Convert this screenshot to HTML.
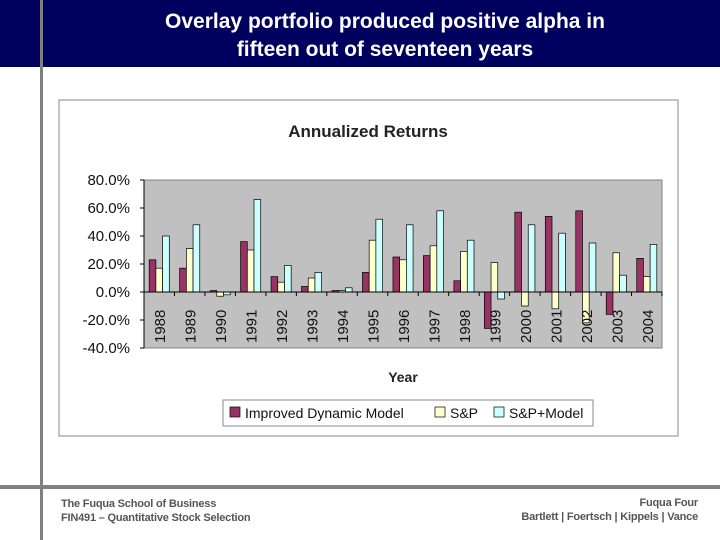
<!DOCTYPE html>
<html><head><meta charset="utf-8"><style>
body{margin:0;width:720px;height:540px;position:relative;background:#fff;font-family:"Liberation Sans",sans-serif;overflow:hidden}
.banner{position:absolute;left:0;top:0;width:720px;height:67px;background:#00005e}
.title{position:absolute;left:40px;width:690px;top:8px;text-align:center;color:#fff;font-size:21px;line-height:28px;font-weight:bold}
.vline{position:absolute;left:40px;top:0;width:3px;height:540px;background:#808080}
.hline{position:absolute;left:0;top:485px;width:720px;height:4px;background:#808080}
.foot{position:absolute;font-size:11px;color:#555;font-weight:bold;line-height:14px;letter-spacing:-0.2px}
</style></head><body>
<div class="banner"></div>
<div class="vline"></div>
<div class="title">Overlay portfolio produced positive alpha in<br>fifteen out of seventeen years</div>
<svg id="chart" width="720" height="540" style="position:absolute;left:0;top:0"></svg>
<div class="hline"></div>
<div class="foot" style="left:61px;top:497px">The Fuqua School of Business<br>FIN491 – Quantitative Stock Selection</div>
<div class="foot" style="right:22px;top:496px;text-align:right">Fuqua Four<br>Bartlett | Foertsch | Kippels | Vance</div>
<script>
const years=["1988","1989","1990","1991","1992","1993","1994","1995","1996","1997","1998","1999","2000","2001","2002","2003","2004"];
const improved=[23,17,1,36,11,4,1,14,25,26,8,-26,57,54,58,-16,24];
const sp=[17,31,-3,30,7,10,1,37,23,33,29,21,-10,-12,-22,28,11];
const spModel=[40,48,-2,66,19,14,3,52,48,58,37,-5,48,42,35,12,34];
const ticks=[80,60,40,20,0,-20,-40];
const NS="http://www.w3.org/2000/svg";
const svg=document.getElementById('chart');
function mk(t,a,p){const e=document.createElementNS(NS,t);for(const k in a)e.setAttribute(k,a[k]);(p||svg).appendChild(e);return e;}
const L=144,R=662,T=180,B=348;
const y=v=>T+(80-v)*(B-T)/120;
const band=(R-L)/years.length;
const x=i=>L+i*band;
let e;
e=mk('rect',{x:59,y:100,width:619,height:336,fill:'#fff',stroke:'#888','stroke-width':1});

e=mk('text',{x:368,y:137,'text-anchor':'middle','font-size':17,'font-weight':'bold',fill:'#222'});e.textContent='Annualized Returns';

e=mk('rect',{x:L,y:T,width:R-L,height:B-T,fill:'#c0c0c0',stroke:'#808080'});

mk('line',{x1:L,y1:T,x2:L,y2:B,stroke:'#000'});
ticks.forEach(t=>{mk('line',{x1:L-4,x2:L,y1:y(t),y2:y(t),stroke:'#000'});
 e=mk('text',{x:L-14,y:y(t)+5,'text-anchor':'end','font-size':15,fill:'#111'});e.textContent=t.toFixed(1)+'%';
 });
const series=[[improved,'#993366','improved'],[sp,'#ffffcc','sp'],[spModel,'#ccffff','sp-model']];
const bw=band*0.22;
years.forEach((yr,i)=>{
 series.forEach((s,j)=>{const v=s[0][i];const bx=x(i)+band*0.17+j*bw;
  e=mk('rect',{x:bx,y:Math.min(y(v),y(0)),width:bw,height:Math.abs(y(v)-y(0)),fill:s[1],stroke:'#000','stroke-width':0.7});
  });
 e=mk('text',{transform:`translate(${x(i)+band/2+6},343) rotate(-90)`,'font-size':15,fill:'#111'});e.textContent=yr;
 
 mk('line',{x1:x(i+1),x2:x(i+1),y1:y(0),y2:y(0)+4,stroke:'#000'});
});
mk('line',{x1:L,x2:R,y1:y(0),y2:y(0),stroke:'#000'});
e=mk('text',{x:403,y:382,'text-anchor':'middle','font-size':14,'font-weight':'bold',fill:'#222'});e.textContent='Year';

const lg=mk('g',{});
mk('rect',{x:223,y:400,width:370,height:26,fill:'#fff',stroke:'#888'},lg);
const items=[['Improved Dynamic Model','#993366',230],['S&P','#ffffcc',435],['S&P+Model','#ccffff',494]];
items.forEach(it=>{mk('rect',{x:it[2],y:407,width:10,height:10,fill:it[1],stroke:'#000','stroke-width':0.7},lg);
 e=mk('text',{x:it[2]+15,y:418,'font-size':14,fill:'#111'},lg);e.textContent=it[0];
 });
</script>
</body></html>
